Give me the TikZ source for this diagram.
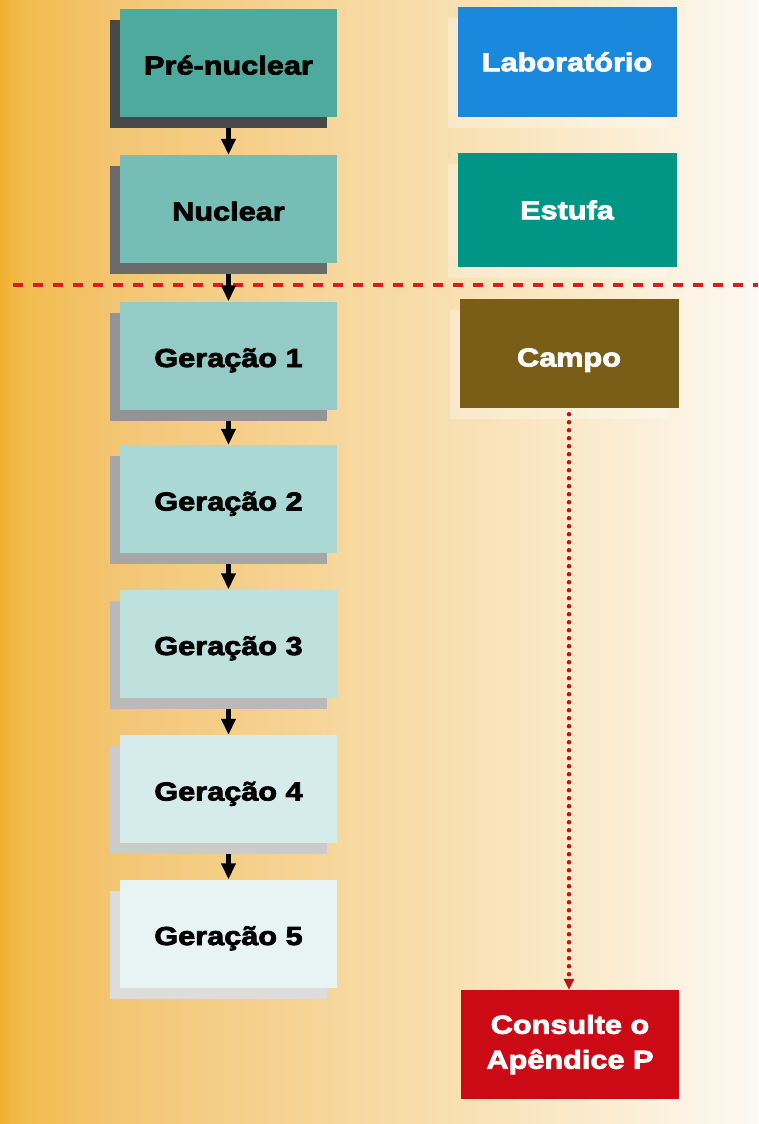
\documentclass[tikz,border=0pt]{standalone}
\usepackage{fontspec}
\newfontfamily\blk{Liberation Sans Bold}[FakeStretch=1.18,FakeBold=3]
\usetikzlibrary{shadows,arrows.meta}
\definecolor{bg0}{HTML}{F0B030}
\definecolor{bg1}{HTML}{F1BB4C}
\definecolor{bg2}{HTML}{F3C674}
\definecolor{bg3}{HTML}{F7DAA4}
\definecolor{bg4}{HTML}{FAE8C6}
\definecolor{bg5}{HTML}{FDF9F2}
\definecolor{cpre}{HTML}{4EAA9C}\definecolor{spre}{HTML}{484848}
\definecolor{cnuc}{HTML}{76BDB5}\definecolor{snuc}{HTML}{6B6B6B}
\definecolor{cga}{HTML}{94CBC6}\definecolor{sga}{HTML}{949494}
\definecolor{cgb}{HTML}{AAD8D4}\definecolor{sgb}{HTML}{A6A6A6}
\definecolor{cgc}{HTML}{BFE1DE}\definecolor{sgc}{HTML}{B9B9B9}
\definecolor{cgd}{HTML}{D6ECEA}\definecolor{sgd}{HTML}{CBCBCB}
\definecolor{cge}{HTML}{E8F4F4}\definecolor{sge}{HTML}{DCDCDC}
\definecolor{clab}{HTML}{1A88DC}
\definecolor{cest}{HTML}{009585}
\definecolor{ccampo}{HTML}{7A5E18}
\definecolor{ccons}{HTML}{CC0A16}
\definecolor{divred}{HTML}{D42020}
\definecolor{dotred}{HTML}{C0101A}
\pgfdeclarehorizontalshading{bgshade}{100bp}{color(0bp)=(bg0); color(25bp)=(bg0); color(26.3bp)=(bg1); color(32.9bp)=(bg2); color(50.1bp)=(bg3); color(61.9bp)=(bg4); color(75bp)=(bg5); color(100bp)=(bg5)}
\begin{document}
\begin{tikzpicture}[x=1pt,y=-1pt,
  box/.style={rectangle, inner sep=0pt, minimum width=217pt, minimum height=108pt,
    font=\blk\fontsize{26}{35}\selectfont, align=center},
  lbox/.style 2 args={box, fill=#1, text=black, text height=23pt, text depth=0pt,
    drop shadow={shadow xshift=-10pt, shadow yshift=-11pt, fill=#2, opacity=1}},
  rbox/.style={box, fill=#1, text=white, minimum width=219pt, minimum height=110pt},
  rshadow/.style={drop shadow={shadow xshift=-10pt, shadow yshift=-11pt, fill=white, opacity=0.3}},
  rline/.style={text height=#1, text depth=0pt},
  blkarrow/.style={line width=4.5pt, black, -{Triangle[length=16pt,width=14pt]}},
  divider/.style={line width=4pt, divred, dash pattern=on 10pt off 10pt},
  dotarrow/.style={line width=4.5pt, dotred, line cap=round, dash pattern=on 0pt off 8pt,
    -{Triangle[length=11pt,width=10pt,line cap=butt]}}
]
\useasboundingbox (0,0) rectangle (758,1124);
\shade[shading=bgshade] (0,0) rectangle (758,1124);

\coordinate (divL) at (13,285);
\coordinate (divR) at (758,285);
\draw[divider] (divL) -- (divR);

\node[lbox={cpre}{spre}] (pre) at (228.5,63) {Pré-nuclear};
\node[lbox={cnuc}{snuc}] (nuc) at (228.5,209) {Nuclear};
\node[lbox={cga}{sga}] (g1) at (228.5,355.5) {Geração 1};
\node[lbox={cgb}{sgb}] (g2) at (228.5,499) {Geração 2};
\node[lbox={cgc}{sgc}] (g3) at (228.5,643.5) {Geração 3};
\node[lbox={cgd}{sgd}] (g4) at (228.5,789) {Geração 4};
\node[lbox={cge}{sge}] (g5) at (228.5,933.5) {Geração 5};

\node[rbox=clab, rshadow, rline=18.6pt] (lab) at (567,62) {Laboratório};
\node[rbox=cest, rshadow, rline=18.6pt, minimum height=114pt] (est) at (567,210) {Estufa};
\node[rbox=ccampo, rshadow, rline=26pt, minimum height=109pt] (campo) at (569,353.5) {Campo};
\node[rbox=ccons, minimum width=218pt, minimum height=109pt] (cons) at (570,1044.5) {Consulte o\\Apêndice P};

\draw[blkarrow] ([yshift=-11pt]pre.south) -- (nuc.north);
\draw[blkarrow] ([yshift=-11pt]nuc.south) -- (g1.north);
\draw[blkarrow] ([yshift=-11pt]g1.south) -- (g2.north);
\draw[blkarrow] ([yshift=-11pt]g2.south) -- (g3.north);
\draw[blkarrow] ([yshift=-11pt]g3.south) -- (g4.north);
\draw[blkarrow] ([yshift=-11pt]g4.south) -- (g5.north);

\draw[dotarrow] ([yshift=-6pt]campo.south) -- (campo.south |- cons.north);
\end{tikzpicture}
\end{document}
